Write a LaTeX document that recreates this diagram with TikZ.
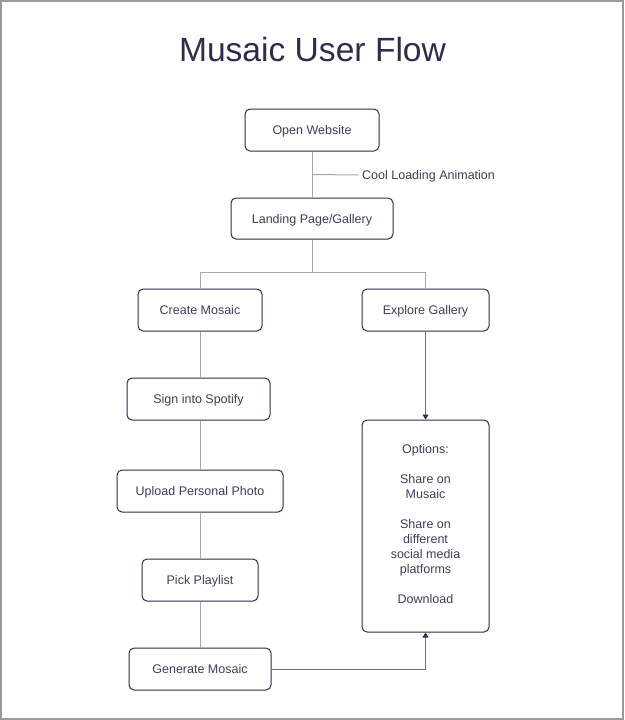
\documentclass[tikz,border=0pt]{standalone}
\usepackage{fontspec}
\setmainfont{Liberation Sans}
\usetikzlibrary{arrows.meta,calc}
\definecolor{ink}{HTML}{2C2E4C}
\definecolor{txt}{HTML}{3C3F58}
\definecolor{conn}{HTML}{A6A6AE}
\definecolor{arrc}{HTML}{6E6F7E}
\definecolor{frame}{HTML}{9A9A9A}
\begin{document}
\begin{tikzpicture}[x=1pt,y=-1pt,
  box/.style={draw=ink, line width=1pt, rounded corners=5pt, fill=white, text=txt,
    font=\fontsize{12.5}{15}\selectfont, inner sep=0pt, align=center,
    text height=9pt, text depth=0pt},
  link/.style={draw=conn, line width=1pt},
  arr/.style={draw=arrc, line width=0.9pt, -{Triangle[length=5pt,width=6pt,color=ink]}},
  lbl/.style={text=txt, font=\fontsize{12.5}{15}\selectfont, inner sep=4pt}]
\useasboundingbox (0,0) rectangle (624,720);
\fill[white] (0,0) rectangle (624,720);
\draw[draw=frame, line width=2pt] (1,1) rectangle (623,719);

\node[text=ink, font=\fontsize{33.6}{40}\selectfont, inner sep=0pt,
  text height=24pt, text depth=0pt] (title) at (312.5,49.5) {Musaic User Flow};

\node[box, minimum width=134pt, minimum height=42pt] (ow) at (312,130) {Open Website};
\node[box, minimum width=162pt, minimum height=41pt] (lp) at (312,218.5) {Landing Page/Gallery};
\node[box, minimum width=124pt, minimum height=42pt] (cm) at (200,310) {Create Mosaic};
\node[box, minimum width=127pt, minimum height=42pt] (eg) at (425.5,310) {Explore Gallery};
\node[box, minimum width=143pt, minimum height=42pt] (sp) at (198.5,399) {Sign into Spotify};
\node[box, minimum width=166pt, minimum height=42pt] (up) at (200,491) {Upload Personal Photo};
\node[box, minimum width=116pt, minimum height=42pt] (pp) at (200,580) {Pick Playlist};
\node[box, minimum width=142pt, minimum height=42pt] (gm) at (200,669) {Generate Mosaic};
\node[box, minimum width=127pt, minimum height=212pt] (opt) at (425.5,526) {};
\node[lbl, align=center, inner sep=0pt] (optt) at ($(opt.center)+(0,-2)$)
  {Options:\\[15pt]Share on\\Musaic\\[15pt]Share on\\different\\social media\\platforms\\[15pt]Download};

% connectors
\draw[link] (ow.south) -- (lp.north);
\coordinate (cl) at ($(ow.south)!0.5!(lp.north)$);
\node[lbl, anchor=west, text height=9pt, text depth=0pt] (cla) at (358,175) {Cool Loading Animation};
\draw[link] (cl) -- (cla.west);

\coordinate (br) at (312,272.5);
\draw[link] (lp.south) -- (br);
\draw[link] (cm.north) |- (br) -| (eg.north);

\draw[link] (cm.south) -- (cm.south |- sp.north);
\draw[link] (sp.south -| cm.south) -- (cm.south |- up.north);
\draw[link] (up.south -| cm.south) -- (cm.south |- pp.north);
\draw[link] (pp.south -| cm.south) -- (cm.south |- gm.north);

\draw[arr] (eg.south) -- (opt.north);
\draw[arr] (gm.east) -| (opt.south);
\end{tikzpicture}
\end{document}
